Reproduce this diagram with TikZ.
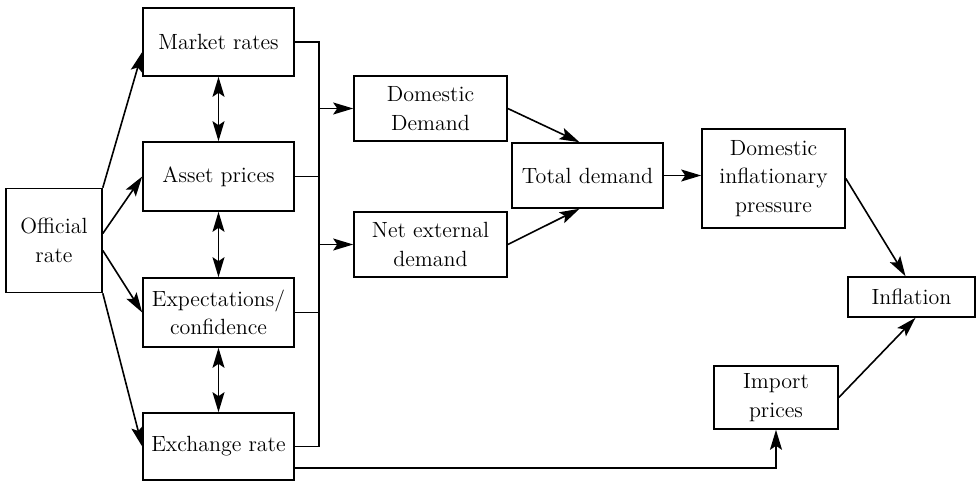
\documentclass[tikz,border=0pt]{standalone}
\usetikzlibrary{arrows.meta}
\tikzset{
  box/.style={draw, line width=0.8pt, align=center, inner sep=0pt,
    font=\fontsize{11}{14.3}\selectfont},
  flow/.style={line width=0.8pt, -{Stealth[length=10pt, width=6pt, inset=2pt]}},
  both/.style={line width=0.8pt, {Stealth[length=10pt, width=6pt, inset=2pt]}-{Stealth[length=10pt, width=6pt, inset=2pt]}},
  link/.style={line width=0.8pt}
}
\begin{document}
\begin{tikzpicture}[x=0.5pt, y=-0.5pt]
    \useasboundingbox (0,0) rectangle (976,481);
    % transmission channels
    \node[box, minimum width=48pt, minimum height=52pt] (off) at (54,240.5) {Official\\rate};
    \node[box, minimum width=75.5pt, minimum height=34pt] (mkt) at (218.5,42) {Market rates};
    \node[box, minimum width=75.5pt, minimum height=34.5pt] (ast) at (218.5,176.5) {Asset prices};
    \node[box, minimum width=75.5pt, minimum height=34.5pt] (exp) at (218.5,312.5) {Expectations/\\confidence};
    \node[box, minimum width=75.5pt, minimum height=33.5pt] (exr) at (218.5,446.5) {Exchange rate};
    \node[box, minimum width=76.5pt, minimum height=32.5pt] (dom) at (430.5,108.5) {Domestic\\Demand};
    \node[box, minimum width=76.5pt, minimum height=32.5pt] (net) at (430.5,244.5) {Net external\\demand};
    \node[box, minimum width=75.5pt, minimum height=32.5pt] (tot) at (587.5,175.5) {Total demand};
    \node[box, minimum width=71.5pt, minimum height=49.5pt] (dip) at (773.5,178.5) {Domestic\\inflationary\\pressure};
    \node[box, minimum width=63.5pt, minimum height=20pt] (inf) at (911.5,297) {Inflation};
    \node[box, minimum width=62pt, minimum height=31.5pt] (imp) at (776,397.5) {Import\\prices};
    \coordinate (br) at (319,0);

    \draw[flow] (off.north east) -- ([yshift=-5pt]mkt.west);
    \draw[flow] ([yshift=3.5pt]off.east) -- (ast.west);
    \draw[flow] ([yshift=-5pt]off.east) -- (exp.west);
    \draw[flow] (off.south east) -- (exr.west);

    \draw[both] (mkt.south) -- (ast.north);
    \draw[both] (ast.south) -- (exp.north);
    \draw[both] (exp.south) -- (exr.north);

    % bracket
    \draw[link] (mkt.east) -- (mkt.east -| br) -- (exr.east -| br) -- (exr.east);
    \draw[link] (ast.east) -- (ast.east -| br);
    \draw[link] (exp.east) -- (exp.east -| br);
    \draw[flow] (dom.west -| br) -- (dom.west);
    \draw[flow] (net.west -| br) -- (net.west);

    \draw[flow] (dom.east) -- ([xshift=-4pt]tot.north);
    \draw[flow] (net.east) -- ([xshift=-4pt]tot.south);
    \draw[flow] (tot.east) -- (tot.east -| dip.west);
    \draw[flow] (dip.east) -- ([xshift=-3pt]inf.north);
    \draw[flow] ([yshift=-10.75pt]exr.east) -| (imp.south);
    \draw[flow] (imp.east) -- ([xshift=2pt]inf.south);
\end{tikzpicture}
\end{document}
